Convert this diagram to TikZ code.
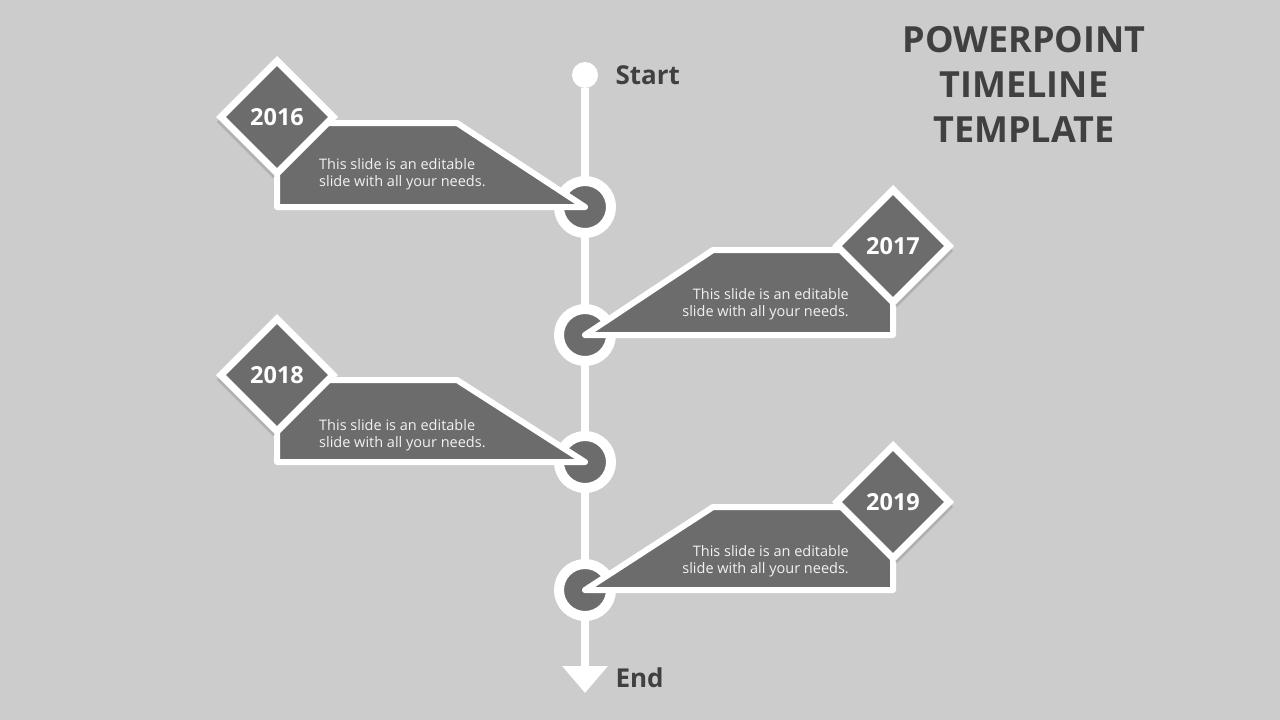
\documentclass[tikz,border=0pt]{standalone}
\usepackage{fontspec}
\setmainfont{Open Sans}
\usetikzlibrary{shapes.geometric,shadows,arrows.meta}
\definecolor{bggray}{RGB}{204,204,204}
\definecolor{boxgray}{RGB}{108,108,108}
\definecolor{titlegray}{RGB}{64,64,64}
\definecolor{notewhite}{RGB}{242,242,242}

\begin{document}
\begin{tikzpicture}[x=1pt,y=-1pt,
		yearbox/.style={diamond,aspect=1,minimum size=115pt,inner sep=0pt,fill=boxgray,draw=white,line width=7pt,text=white,font=\fontsize{23.5}{23.5}\selectfont\bfseries},
		leftshadow/.style={drop shadow={shadow xshift=-4pt,shadow yshift=-5pt,opacity=.35}},
		rightshadow/.style={drop shadow={shadow xshift=4pt,shadow yshift=-5pt,opacity=.35}},
		dot/.style={circle,fill=boxgray,draw=white,line width=10pt,minimum size=52pt,inner sep=0pt,drop shadow={shadow xshift=0pt,shadow yshift=-2pt,opacity=.15}},
		flag/.style={fill=boxgray,draw=white,line width=6pt,line join=round},
		note/.style={text=notewhite,font=\fontsize{14.5}{17}\selectfont,inner sep=0pt},
		endlabel/.style={text=titlegray,font=\fontsize{26}{26}\selectfont\bfseries,anchor=west}]
			\fill[bggray] (0,0) rectangle (1280,720);
			\node[circle,fill=white,minimum size=26pt,inner sep=0pt] (start) at (585,75) {};
			\coordinate (end) at (585,693);
			\draw[white,line width=8pt,-{Triangle[width=44pt,length=27pt]}] (start) -- (end);
			\node[endlabel] (lstart) at (612,75) {Start};
			\node[endlabel] (lend) at (612,678) {End};
			\node[dot] (c1) at (585,207) {};
			\node[dot] (c2) at (585,335) {};
			\node[dot] (c3) at (585,462) {};
			\node[dot] (c4) at (585,590) {};
			\draw[flag] (277,123) -- (457,123) -- (c1.center) -- (277,207) -- cycle;
			\draw[flag] (893,250) -- (713,250) -- (c2.center) -- (893,335) -- cycle;
			\draw[flag] (277,380) -- (457,380) -- (c3.center) -- (277,462) -- cycle;
			\draw[flag] (893,507) -- (713,507) -- (c4.center) -- (893,590) -- cycle;
			\node[yearbox,leftshadow] (y1) at (277,117) {2016};
			\node[yearbox,rightshadow] (y2) at (893,246) {2017};
			\node[yearbox,leftshadow] (y3) at (277,375) {2018};
			\node[yearbox,rightshadow] (y4) at (893,502) {2019};
			\node[note,anchor=west,align=left] (n1) at (319,174) {This slide is an editable\\slide with all your needs.};
			\node[note,anchor=east,align=right] (n2) at (849,304) {This slide is an editable\\slide with all your needs.};
			\node[note,anchor=west,align=left] (n3) at (319,435) {This slide is an editable\\slide with all your needs.};
			\node[note,anchor=east,align=right] (n4) at (849,561) {This slide is an editable\\slide with all your needs.};
			\node[text=titlegray,align=center,font=\fontsize{36}{45}\selectfont\bfseries] (title) at (1024,84) {POWERPOINT\\TIMELINE\\TEMPLATE};
		\end{tikzpicture}
\end{document}
